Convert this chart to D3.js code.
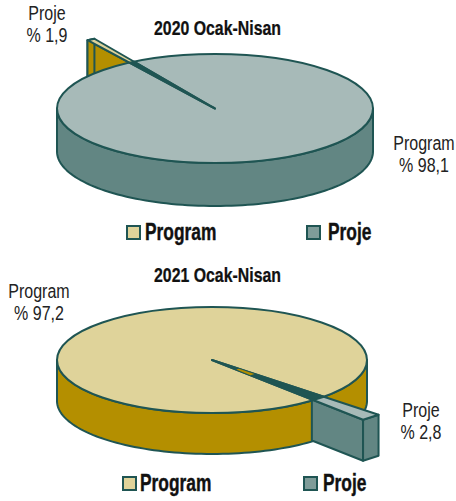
<!DOCTYPE html>
<html>
<head>
<meta charset="utf-8">
<script src="https://cdn.jsdelivr.net/npm/d3@7"></script>
<style>
html, body { margin: 0; padding: 0; background: #fff; }
svg { display: block; }
text { font-family: "Liberation Sans", sans-serif; }
</style>
</head>
<body>
<script>
var categories = ["Program", "Proje"];
var values2020 = [98.1, 1.9];
var values2021 = [97.2, 2.8];
var valueLabels2020 = ["% 98,1", "% 1,9"];
var valueLabels2021 = ["% 97,2", "% 2,8"];
var titles = ["2020 Ocak-Nisan", "2021 Ocak-Nisan"];

var ink = "#1f5553";
var colors = {
	Program: { top: "#dfd39a", side: "#b48f00", key: "#dfd39a" },
	Proje: { top: "#a7bab8", side: "#628683", key: "#7f9c99" }
};

var svg = d3.select("body").append("svg")
	.attr("width", 456)
	.attr("height", 501);

var line = d3.line();

function rad(deg) {
	return deg * Math.PI / 180;
}

// no condensed face installed, so squeeze the text sideways
function narrowText(x, y, size, weight, squeeze, anchor, fill, str) {
	return svg.append("text")
		.attr("transform", "translate(" + x + "," + y + ") scale(" + squeeze + ",1)")
		.attr("text-anchor", anchor)
		.attr("font-size", size)
		.attr("font-weight", weight)
		.attr("fill", fill)
		.text(str);
}

function DrawPie(opt) {
	var g = svg.append("g");

	// Proje ends up around opt.midAngle, the rest goes all the way round
	var share = opt.values[1] / 100;
	var pie = d3.pie().sort(null)
		.startAngle(rad(opt.midAngle) - 2 * Math.PI * (1 - share / 2))
		.endAngle(rad(opt.midAngle) + Math.PI * 2 * share / 2);
	var arcs = pie(opt.values);

	// the drawn wedge is a lot narrower than its real angle
	var half = (arcs[1].endAngle - arcs[1].startAngle) / 2 * opt.squeeze;
	var a0 = rad(opt.midAngle) - half;
	var a1 = rad(opt.midAngle) + half;

	var sx = d3.scaleLinear().domain([-1, 1]).range([opt.cx - opt.rx, opt.cx + opt.rx]);
	var sy = d3.scaleLinear().domain([-1, 1]).range([opt.cy - opt.ry, opt.cy + opt.ry]);

	function polar(angle, r) {
		return [sx(r * Math.sin(angle)), sy(-r * Math.cos(angle))];
	}
	function down(p) {
		return [p[0], p[1] + opt.depth];
	}

	var center = [opt.cx, opt.cy];
	var p0 = polar(a0, opt.explode);
	var p1 = polar(a1, opt.explode);
	var main = colors[categories[opt.main]];
	var part = colors[categories[opt.part]];

	function shape(points, fill) {
		return g.append("path")
			.attr("d", line(points) + "Z")
			.attr("fill", fill)
			.attr("stroke", ink)
			.attr("stroke-width", opt.stroke)
			.attr("stroke-linejoin", "round");
	}

	if (opt.behind) {
		// wedge sits behind the disc, its side wall is hidden by the rim
		shape([p0, down(p0), down(center), center], part.side);
		shape([p0, p1, down(p1), down(p0)], part.side);
	}

	// side band of the disc
	var rim = d3.range(90, 270.5, 2).map(function (d) { return polar(rad(d), 1); });
	shape(rim.concat(rim.map(down).reverse()), main.side);

	g.append("ellipse")
		.attr("cx", opt.cx)
		.attr("cy", opt.cy)
		.attr("rx", opt.rx)
		.attr("ry", opt.ry)
		.attr("fill", main.top)
		.attr("stroke", ink)
		.attr("stroke-width", opt.stroke);

	if (!opt.behind) {
		// radial wall only shows from where it leaves the disc
		var exit = polar(a1, 0.985);
		shape([exit, p1, down(p1), down(exit)], part.side);
		shape([p1, p0, down(p0), down(p1)], part.side);
	}

	shape([center, p0, p1], part.top);
	// inside the disc the wedge reads as a solid dark spike
	shape([center, polar(a0, 1), polar(a1, 1)], ink);

	if (opt.sliver) {
		shape([polar(a0, opt.sliver[0]), polar(a0, opt.sliver[1]), polar(a1, opt.sliver[1]), polar(a1, opt.sliver[0])], opt.sliverFill)
			.attr("stroke", "none");
	}

	narrowText(opt.titleX, opt.titleY, 19.5, "bold", 0.814, "middle", "#111", opt.title)
		.attr("stroke", "#111").attr("stroke-width", 0.25);

	opt.labels.forEach(function (l) {
		narrowText(l.x, l.y, 20, "normal", 0.8, "middle", "#222", categories[l.index]);
		narrowText(l.x, l.y + 22, 20, "normal", 0.8, "middle", "#222", opt.valueLabels[l.index]);
	});

	opt.legend.forEach(function (l, i) {
		svg.append("rect")
			.attr("x", l.x)
			.attr("y", l.y)
			.attr("width", 13)
			.attr("height", 13)
			.attr("fill", colors[categories[i]].key)
			.attr("stroke", ink)
			.attr("stroke-width", 2);
		narrowText(l.textX, l.y + 14, 23, "bold", 0.755, "start", "#111", categories[i])
			.attr("stroke", "#111").attr("stroke-width", 0.4);
	});
}

DrawPie({
	values: values2020, valueLabels: valueLabels2020, title: titles[0],
	main: 1, part: 0, behind: true,
	cx: 215, cy: 108.5, rx: 158, ry: 54.5, depth: 43,
	midAngle: -31.8, squeeze: 0.29, explode: 1.49,
	stroke: 2,
	titleX: 217.5, titleY: 35,
	labels: [{ index: 1, x: 47, y: 20 }, { index: 0, x: 424, y: 150 }],
	legend: [{ x: 127, y: 226, textX: 145 }, { x: 307, y: 226, textX: 328 }]
});

DrawPie({
	values: values2021, valueLabels: valueLabels2021, title: titles[1],
	main: 0, part: 1, behind: false,
	cx: 212, cy: 360, rx: 155, ry: 53, depth: 41,
	midAngle: 136.5, squeeze: 0.526, explode: 1.49,
	stroke: 2,
	sliver: [0.24, 0.38], sliverFill: colors.Program.side,
	titleX: 217.5, titleY: 282,
	labels: [{ index: 0, x: 39, y: 298 }, { index: 1, x: 421, y: 417 }],
	legend: [{ x: 123, y: 477, textX: 140 }, { x: 304, y: 477, textX: 323 }]
});
</script>
</body>
</html>
